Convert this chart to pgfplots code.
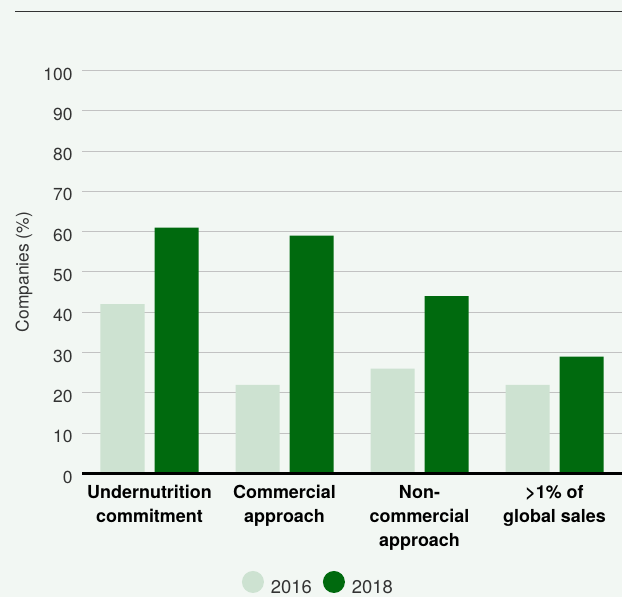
\documentclass[border=0pt]{standalone}
\usepackage{pgfplots}
\pgfplotsset{compat=1.18}
\usepackage{fontspec}
\setmainfont{TeX Gyre Heros}
\definecolor{bgc}{HTML}{F2F7F3}
\definecolor{lightg}{HTML}{CDE2D1}
\definecolor{darkg}{HTML}{006A0E}
\definecolor{gridc}{HTML}{C2C2C2}
\definecolor{textc}{HTML}{333333}
\begin{document}
\begin{tikzpicture}
\fill[bgc] (0,0) rectangle (622bp,597bp);
\draw[line width=1.3bp, color=textc] (15bp,585.5bp) -- (622bp,585.5bp);
\begin{axis}[
  at={(82bp,123.5bp)}, anchor=south west,
  scale only axis, width=540bp, height=403bp,
  xmin=-0.5, xmax=3.5, ymin=0, ymax=100,
  clip=false,
  axis line style={draw=none},
  major tick length=0pt,
  ytick={0,10,...,100},
  ymajorgrids,
  grid style={color=gridc, line width=1bp},
  xtick={0,1,2,3},
  xticklabels={Undernutrition\\commitment, Commercial\\approach, Non-\\commercial\\approach, >1\% of\\global sales},
  xticklabel style={anchor=north, inner sep=0pt, yshift=-11.5bp, align=center, font=\fontsize{18}{24}\selectfont\bfseries, text=black},
  yticklabel style={anchor=east, inner sep=0pt, xshift=-9.3bp, yshift=-3.5bp, font=\fontsize{17.5}{20}\selectfont, text=textc},
  /pgf/number format/assume math mode=true,
  ylabel={Companies (\%)},
  ylabel style={at={(rel axis cs:-0.1074,0.5)}, anchor=center, font=\fontsize{17.5}{20}\selectfont, text=textc},
  legend columns=2,
  legend style={at={(rel axis cs:0.436,-0.272)}, anchor=center, draw=none, fill=none,
    font=\fontsize{18.5}{20}\selectfont, text=textc,
    nodes={inner sep=0pt},
    /tikz/every odd column/.append style={column sep=7bp},
    /tikz/every even column/.append style={column sep=11bp}},
]
\addplot[ybar, bar width=44bp, bar shift=-27bp, fill=lightg, draw=none,
  legend image code/.code={\fill[lightg] (11bp,6bp) circle (11bp);}]
  coordinates {(0,42) (1,22) (2,26) (3,22)};
\addlegendentry{2016}
\addplot[ybar, bar width=44bp, bar shift=27bp, fill=darkg, draw=none,
  legend image code/.code={\fill[darkg] (11bp,6bp) circle (11bp);}]
  coordinates {(0,61) (1,59) (2,44) (3,29)};
\addlegendentry{2018}
\draw[line width=2.7bp, color=black] (axis cs:-0.5,0) -- (axis cs:3.5,0);
\end{axis}
\pgfresetboundingbox
\useasboundingbox (0,0) rectangle (622bp,597bp);
\end{tikzpicture}
\end{document}
